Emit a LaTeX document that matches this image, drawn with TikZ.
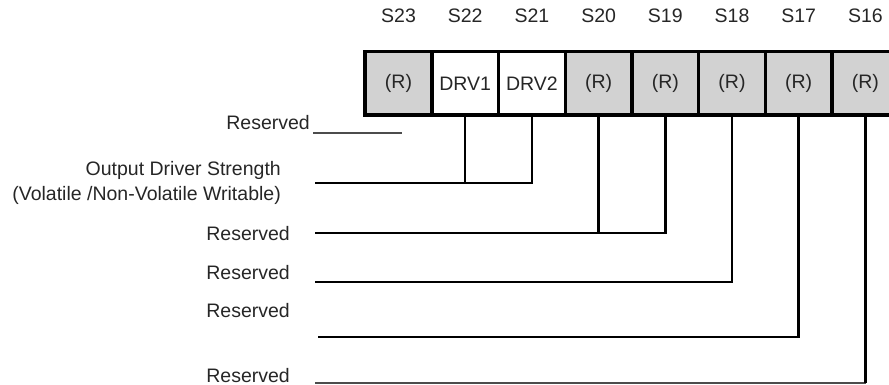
\documentclass[tikz,border=0pt]{standalone}
\usepackage{fontspec}
\setmainfont{Liberation Sans}
\usetikzlibrary{positioning}
\tikzset{
        x=1pt, y=-1pt, % one unit per pixel, y grows downwards
        every node/.style={font=\fontsize{19.5}{25}\selectfont, text=black!85}, % text in all nodes
    }
\tikzstyle{regbit}=[draw,line width=3.5pt,fill=gray!35,minimum width=66.7pt,minimum height=63.5pt,inner sep=0pt,outer sep=0pt]
\tikzstyle{drvbit}=[regbit,fill=white]
\tikzstyle{bitname}=[inner sep=0pt]
\tikzstyle{fieldname}=[inner sep=0pt,anchor=base east]
\tikzstyle{wire}=[line width=2.5pt]
\tikzstyle{thinwire}=[line width=1.4pt,black!70]

\begin{document}
\begin{tikzpicture}
    \useasboundingbox (0,0) rectangle (889,385);
    \clip (0,0) rectangle (889,385);
    % status register bits
    \node[regbit] (s23) at (398.5,83.5) {(R)};
    \node[drvbit, right=0pt of s23] (s22) {DRV1};
    \node[drvbit, right=0pt of s22] (s21) {DRV2};
    \node[regbit, right=0pt of s21] (s20) {(R)};
    \node[regbit, right=0pt of s20] (s19) {(R)};
    \node[regbit, right=0pt of s19] (s18) {(R)};
    \node[regbit, right=0pt of s18] (s17) {(R)};
    \node[regbit, right=0pt of s17] (s16) {(R)};
    \foreach \b in {23,22,...,16}
        \node[bitname, above=28.75pt of s\b] (name\b) {S\b};

    % field descriptions
    \node[fieldname] (rsv23) at (310,130) {Reserved};
    \node[fieldname, align=right, anchor=east] (ods) at (281,183)
        {Output Driver Strength\\(Volatile /Non-Volatile Writable)};
    \node[fieldname] (rsv1920) at (290,240) {Reserved};
    \node[fieldname] (rsv18) at (290,279) {Reserved};
    \node[fieldname] (rsv17) at (290,317) {Reserved};
    \node[fieldname] (rsv16) at (290,382) {Reserved};

    % leader lines
    \coordinate (r23a) at (313,133);
    \coordinate (r23b) at (402,133);
    \coordinate (odsend) at (315,183);
    \coordinate (r1920) at (315,233);
    \coordinate (r18) at (315,282);
    \coordinate (r17) at (318,337);
    \coordinate (r16) at (315,383);
    \draw[thinwire] (r23a) -- (r23b);
    \draw[wire] (odsend) -| (s22.south);
    \draw[wire] (odsend) -| (s21.south);
    \draw[wire] (r1920) -| (s20.south);
    \draw[wire] (r1920) -| (s19.south);
    \draw[wire] (r18) -| (s18.south);
    \draw[wire] (r17) -| (s17.south);
    \draw[thinwire] (r16) -| (s16.south);
    \draw[wire] (s16.south) -- (s16.south |- r16);
\end{tikzpicture}
\end{document}
